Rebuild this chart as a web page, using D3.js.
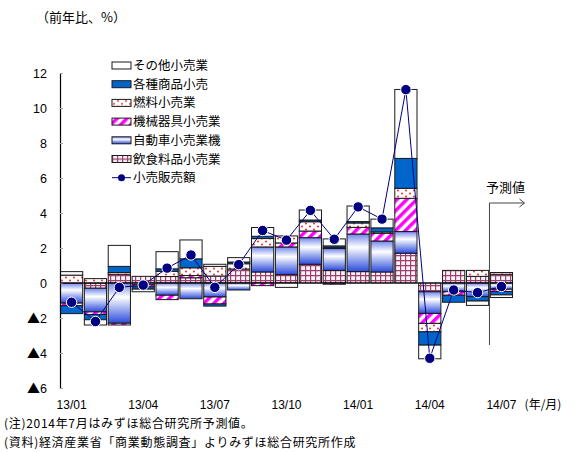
<!DOCTYPE html>
<html>
<head>
<meta charset="utf-8">
<script src="https://cdn.jsdelivr.net/npm/d3@7"></script>
<style>
  body { margin: 0; background: #fff; }
  svg text { font-family: "Liberation Sans", Arial, "Noto Sans CJK JP", sans-serif; }
  .jp { font-family: "Noto Sans CJK JP", sans-serif; }
</style>
</head>
<body>
<svg width="573" height="452"></svg>
<script>
const months = ['13/01','13/02','13/03','13/04','13/05','13/06','13/07','13/08','13/09','13/10','13/11','13/12',
                '14/01','14/02','14/03','14/04','14/05','14/06','14/07'];
const food    = [0, -0.3, 0.5, 0.38, 0.37, 0.3, 0.4, 0.8, 0.63, 0.48, 1.07, 0.72, 0.65, 0.63, 1.7, -0.5, 0.72, 0.38, 0.5];
const auto    = [-1.15, -1.35, -2.3, -0.1, -0.7, -0.9, -0.8, -0.4, 1.43, 1.58, 1.52, 1.25, 2.15, 1.77, 1.24, -1.24, -0.5, -0.78, -0.36];
const machine = [-0.15, -0.15, -0.1, -0.12, -0.25, 0.13, -0.4, 0, -0.15, 0.23, 0.38, -0.07, 0.38, 0.44, 1.9, -0.57, -0.2, 0, -0.13];
const fuel    = [0.45, 0.25, 0.1, 0, 0.3, 0.44, 0.55, 0.3, 0.48, 0.4, 0.53, 0.05, 0.25, 0.08, 0.57, -0.48, 0, 0.34, 0.1];
const general = [-0.45, -0.3, 0.35, -0.13, 0.14, 0.51, -0.12, 0.1, 0.13, 0, 0.1, 0.1, 0.08, 0.23, 1.71, -0.76, -0.4, -0.25, -0.19];
const other   = [0.2, -0.3, 1.2, -0.15, 0.98, 1.08, 0.12, 0.25, 0.5, -0.25, 0.57, 0.4, 0.89, 0.5, 3.94, -0.78, 0, -0.25, -0.15];
const total   = [-1.1, -2.2, -0.25, -0.12, 0.85, 1.6, -0.25, 1.05, 3.0, 2.45, 4.15, 2.5, 4.35, 3.65, 11.05, -4.3, -0.4, -0.55, -0.2];
const yTicks  = [-6, -4, -2, 0, 2, 4, 6, 8, 10, 12];
const xLabels = ['13/01','13/04','13/07','13/10','14/01','14/04','14/07'];

const svg = d3.select('svg');
const defs = svg.append('defs');

// パターン類
const pFood = defs.append('pattern').attr('id', 'p-food').attr('patternUnits', 'userSpaceOnUse')
  .attr('width', 5).attr('height', 5);
pFood.append('rect').attr('width', 5).attr('height', 5).attr('fill', '#fbf3f7');
pFood.append('path').attr('d', 'M0,0.5H5M0.5,0V5').attr('stroke', '#9b3f6e').attr('stroke-width', 1.4);

const pFuel = defs.append('pattern').attr('id', 'p-fuel').attr('patternUnits', 'userSpaceOnUse')
  .attr('width', 8).attr('height', 6);
pFuel.append('rect').attr('width', 8).attr('height', 6).attr('fill', '#fff');
pFuel.append('circle').attr('cx', 2).attr('cy', 1.5).attr('r', 1).attr('fill', '#ff2020');
pFuel.append('circle').attr('cx', 6).attr('cy', 4.5).attr('r', 1).attr('fill', '#ff2020');

const pMach = defs.append('pattern').attr('id', 'p-mach').attr('patternUnits', 'userSpaceOnUse')
  .attr('width', 7).attr('height', 7).attr('patternTransform', 'rotate(45)');
pMach.append('rect').attr('width', 7).attr('height', 7).attr('fill', '#fff');
pMach.append('rect').attr('width', 3.5).attr('height', 7).attr('fill', '#ff00ff');

const gAuto = defs.append('linearGradient').attr('id', 'g-auto')
  .attr('x1', 0).attr('y1', 0).attr('x2', 0).attr('y2', 1);
gAuto.append('stop').attr('offset', '0%').attr('stop-color', '#6f86ec');
gAuto.append('stop').attr('offset', '35%').attr('stop-color', '#ffffff');
gAuto.append('stop').attr('offset', '100%').attr('stop-color', '#2a4bdc');

const keys = ['food', 'auto', 'machine', 'fuel', 'general', 'other'];
const fills = {
  food: 'url(#p-food)', auto: 'url(#g-auto)', machine: 'url(#p-mach)',
  fuel: 'url(#p-fuel)', general: '#0066cc', other: '#ffffff'
};
const names = {
  other: 'その他小売業', general: '各種商品小売', fuel: '燃料小売業',
  machine: '機械器具小売業', auto: '自動車小売業機', food: '飲食料品小売業'
};

const data = months.map((m, i) => ({
  month: m, food: food[i], auto: auto[i], machine: machine[i],
  fuel: fuel[i], general: general[i], other: other[i], total: total[i]
}));

const xScale = d3.scaleBand().domain(months).range([60, 513]).paddingInner(0.07).paddingOuter(0.02);
const yScale = d3.scaleLinear().domain([-6, 12]).range([388, 73]);

const series = d3.stack().keys(keys).offset(d3.stackOffsetDiverging)(data);

// 棒
const layers = svg.append('g').selectAll('g').data(series).enter().append('g')
  .attr('fill', d => fills[d.key]);
layers.selectAll('rect').data(d => d).enter().append('rect')
  .attr('x', d => xScale(d.data.month))
  .attr('y', d => yScale(Math.max(d[0], d[1])))
  .attr('width', xScale.bandwidth())
  .attr('height', d => Math.abs(yScale(d[0]) - yScale(d[1])))
  .attr('stroke', d => Math.abs(d[1] - d[0]) > 0 ? '#1a1a1a' : 'none')
  .attr('stroke-width', 1);

// Y軸（マイナスは▲表記）
const yAxis = d3.axisLeft(yScale)
  .tickValues(yTicks)
  .tickSize(-3)
  .tickPadding(13)
  .tickFormat(d => Math.abs(d));
const yAxisG = svg.append('g').attr('transform', 'translate(60,0)').call(yAxis);
yAxisG.select('.domain').attr('stroke', '#000').attr('stroke-width', 1.2);
yAxisG.selectAll('.tick line').attr('stroke', '#aaa');
yAxisG.selectAll('text').attr('font-size', 12.5).attr('fill', '#000');
yAxisG.selectAll('.tick text')
  .filter(d => d < 0)
  .each(function(d) {
    const t = d3.select(this).text('');
    t.append('tspan').attr('font-family', '"Noto Sans CJK JP", sans-serif').attr('font-size', 13).text('▲');
    t.append('tspan').text(Math.abs(d));
  });

// ゼロ線
svg.append('line')
  .attr('x1', 60).attr('x2', 513)
  .attr('y1', yScale(0)).attr('y2', yScale(0))
  .attr('stroke', '#000').attr('stroke-width', 1.2);

// X軸ラベル
const xAxis = d3.axisBottom(xScale)
  .tickValues(xLabels)
  .tickSize(0)
  .tickPadding(12);
const xAxisG = svg.append('g').attr('transform', 'translate(0,388)').call(xAxis);
xAxisG.select('.domain').remove();
xAxisG.selectAll('text').attr('font-size', 12).attr('fill', '#000');
xAxisG.append('text')
  .attr('class', 'jp')
  .attr('x', 543).attr('y', 12).attr('dy', '0.71em')
  .attr('text-anchor', 'middle')
  .attr('font-size', 12).attr('fill', '#000')
  .text('(年/月)');

// 小売販売額
const line = d3.line()
  .x(d => xScale(d.month) + xScale.bandwidth() / 2)
  .y(d => yScale(d.total));
svg.append('path').datum(data)
  .attr('d', line)
  .attr('fill', 'none')
  .attr('stroke', '#000080')
  .attr('stroke-width', 1);
svg.append('g').selectAll('circle').data(data).enter().append('circle')
  .attr('cx', d => xScale(d.month) + xScale.bandwidth() / 2)
  .attr('cy', d => yScale(d.total))
  .attr('r', 5.2)
  .attr('fill', '#000080')
  .attr('stroke', '#fff')
  .attr('stroke-width', 1);

// 予測値
const px = (xScale('14/06') + xScale.bandwidth() + xScale('14/07')) / 2;
const py = 203;
svg.append('path')
  .attr('d', `M${px},345V${py}H${px + 35}M${px + 30},${py - 4}L${px + 35},${py}L${px + 30},${py + 4}`)
  .attr('fill', 'none').attr('stroke', '#444').attr('stroke-width', 1);
svg.append('text')
  .attr('class', 'jp')
  .attr('x', px + 16).attr('y', py - 11)
  .attr('text-anchor', 'middle')
  .attr('font-size', 13)
  .text('予測値');

// 凡例
const legendKeys = ['other', 'general', 'fuel', 'machine', 'auto', 'food'];
const legend = svg.append('g').attr('transform', 'translate(112,65)');
legendKeys.forEach((k, i) => {
  const row = legend.append('g').attr('transform', `translate(0,${i * 18.7})`);
  row.append('rect')
    .attr('x', 0).attr('y', -3).attr('width', 19).attr('height', 7)
    .attr('fill', fills[k]).attr('stroke', '#1a1a1a').attr('stroke-width', 1);
  row.append('text')
    .attr('class', 'jp')
    .attr('x', 21).attr('y', 5)
    .attr('font-size', 12.5)
    .text(names[k]);
});
const lrow = legend.append('g').attr('transform', `translate(0,${6 * 18.7})`);
lrow.append('line').attr('x1', 0).attr('x2', 19).attr('y1', 0.5).attr('y2', 0.5)
  .attr('stroke', '#000080').attr('stroke-width', 1);
lrow.append('circle').attr('cx', 9.5).attr('cy', 0.5).attr('r', 3.5).attr('fill', '#000080');
lrow.append('text').attr('class', 'jp').attr('x', 21).attr('y', 5).attr('font-size', 12.5).text('小売販売額');

// タイトル・注記
svg.append('text').attr('class', 'jp')
  .attr('x', 36).attr('y', 22).attr('font-size', 13)
  .text('（前年比、%）');
svg.append('text').attr('class', 'jp')
  .attr('x', 4).attr('y', 428).attr('font-size', 12)
  .attr('letter-spacing', 0.7)
  .text('(注)2014年7月はみずほ総合研究所予測値。');
svg.append('text').attr('class', 'jp')
  .attr('x', 4).attr('y', 447).attr('font-size', 12)
  .attr('letter-spacing', 0.7)
  .text('(資料)経済産業省「商業動態調査」よりみずほ総合研究所作成');
</script>
</body>
</html>
